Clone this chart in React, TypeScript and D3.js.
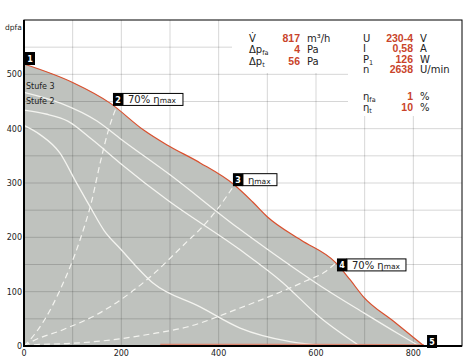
import React from 'react';
import * as d3 from 'd3';

// axis ticks
const xTicks = [0, 200, 400, 600, 800];
const yTicks = [0, 100, 200, 300, 400, 500];

// max curve (point 1 -> point 5), [V m3/h, dpfa Pa]
const maxCurve: [number, number][] = [
  [0, 519], [100, 485], [177, 447], [245, 398], [294, 370], [362, 337], [430, 298],
  [470, 265], [501, 237], [569, 195], [641, 153], [670, 122], [697, 91],
  [760, 45], [822, 0],
];
// lower limit, drawn along the bottom
const minCurve: [number, number][] = [[280, 2], [550, 2], [822, 1]];

// speed steps (white)
const stufe3: [number, number][] = [
  [0, 467], [75, 447], [150, 414], [200, 380], [300, 315], [440, 217], [500, 178],
  [610, 110], [700, 60], [770, 22], [812, 0],
];
const stufe2: [number, number][] = [
  [0, 434], [45, 427], [90, 414], [140, 380], [197, 337], [294, 269], [444, 177],
  [530, 118], [608, 53], [690, 0],
];
const stufe1: [number, number][] = [
  [0, 406], [33, 389], [74, 355], [105, 305], [136, 256], [165, 212], [197, 180],
  [265, 116], [362, 72], [444, 33], [547, 8], [629, 0],
];

// system curves (white dashed)
const eff70Left: [number, number][] = [
  [0, 0], [12, 11], [40, 45], [74, 103], [115, 195], [140, 270], [156, 335], [175, 402], [190, 440],
];
const effMax: [number, number][] = [
  [0, 0], [18, 9], [80, 30], [156, 61], [259, 127], [335, 192], [362, 215], [400, 255], [432, 296],
];
const eff70Right: [number, number][] = [
  [0, 0], [18, 2], [100, 5], [177, 11], [260, 22], [335, 35], [444, 70], [526, 99],
  [580, 120], [618, 136], [640, 152],
];

// numbered operating points
const markerNums = ['1', '2', '3', '4', '5'];
const markerPts: [number, number][] = [[0, 519], [190, 440], [432, 296], [640, 152], [822, 0]];
const markerTags = ['', '70% ', '', '70% ', ''];
const markerHasBox = [false, true, true, true, false];

// info text
const flowRows = [
  { label: 'V̇', sub: '', value: '817', unit: 'm³/h' },
  { label: 'Δp', sub: 'fa', value: '4', unit: 'Pa' },
  { label: 'Δp', sub: 't', value: '56', unit: 'Pa' },
];
const elecRows = [
  { label: 'U', sub: '', value: '230-4', unit: 'V' },
  { label: 'I', sub: '', value: '0,58', unit: 'A' },
  { label: 'P', sub: '1', value: '126', unit: 'W' },
  { label: 'n', sub: '', value: '2638', unit: 'U/min' },
];
const effRows = [
  { label: 'η', sub: 'fa', value: '1', unit: '%' },
  { label: 'η', sub: 't', value: '10', unit: '%' },
];

const W = 476, H = 364;
const font = 'DejaVu Sans, Verdana, sans-serif';
const red = '#d9502e';
const valRed = '#c9442a';

// marker layout: square offset from point, box width
const markerOffsets: [number, number][] = [[1, -12], [-3.5, -14], [-1.3, -12], [1.5, -5], [3, -11]];
const boxWidths = [0, 60, 34, 59, 0];

const x = d3.scaleLinear().domain([0, 900]).range([24, 462]);
const y = d3.scaleLinear().domain([0, 600]).range([346, 20]);

const line = d3.line<[number, number]>()
  .x(d => x(d[0]))
  .y(d => y(d[1]))
  .curve(d3.curveMonotoneX);

const area = d3.area<[number, number]>()
  .x(d => x(d[0]))
  .y0(y(0))
  .y1(d => y(d[1]))
  .curve(d3.curveMonotoneX);

const InfoBlock = ({ rows, lx, vx, ux, y0, dy }: any) => (
  <g fontFamily={font} fontSize={10} fill="#222">
    {rows.map((r: any, i: number) => {
      const by = y0 + i * dy;
      return (
        <g key={i}>
          <text x={lx} y={by}>
            {r.label}
            {r.sub && <tspan fontSize={6.5} dy={2}>{r.sub}</tspan>}
          </text>
          <text x={vx} y={by} textAnchor="end" fill={valRed} fontWeight="bold"
            fontFamily="Liberation Sans, Arial, sans-serif" fontSize={10.5}>{r.value}</text>
          <text x={ux} y={by}>{r.unit}</text>
        </g>
      );
    })}
  </g>
);

export default function App() {
  const xGrid = d3.range(100, 900, 100);
  const yGrid = d3.range(50, 600, 50);

  return (
    <div style={{ position: 'fixed', left: 0, top: 0, width: W, height: H, background: '#fff' }}>
      <svg width={W} height={H} style={{ display: 'block' }}>
        <rect width={W} height={H} fill="#fff" />

        {/* operating range */}
        <path d={area(maxCurve) || ''} fill="#bfc2be" />

        {/* grid */}
        <g stroke="#000" strokeOpacity={0.16} strokeWidth={1}>
          {xGrid.map(v => <line key={'x' + v} x1={x(v)} x2={x(v)} y1={y(600)} y2={y(0)} />)}
          {yGrid.map(v => <line key={'y' + v} x1={x(0)} x2={x(900)} y1={y(v)} y2={y(v)} />)}
        </g>

        {/* white panels behind info text */}
        <rect x={232} y={y(600)} width={230} height={53} fill="#fff" />
        <rect x={348} y={y(600)} width={114} height={96} fill="#fff" />

        {/* speed steps */}
        <g fill="none" stroke="#f4f4f0" strokeWidth={1.3}>
          <path d={line(stufe3) || ''} />
          <path d={line(stufe2) || ''} />
          <path d={line(stufe1) || ''} />
        </g>
        <g fill="none" stroke="#f4f4f0" strokeWidth={1.2} strokeDasharray="6,4">
          <path d={line(eff70Left) || ''} />
          <path d={line(effMax) || ''} />
          <path d={line(eff70Right) || ''} />
        </g>

        {/* limits */}
        <path d={line(minCurve) || ''} fill="none" stroke="#e07a60" strokeOpacity={0.85} strokeWidth={2.5} />
        <path d={line(maxCurve) || ''} fill="none" stroke={red} strokeWidth={1.2} />

        {/* frame */}
        <rect x={x(0)} y={y(600)} width={x(900) - x(0)} height={y(0) - y(600)} fill="none" stroke="#000" strokeWidth={1} />
        <line x1={x(0)} x2={x(0)} y1={y(600)} y2={y(0) + 1} stroke="#000" strokeWidth={2} />
        <line x1={x(0)} x2={x(900)} y1={y(0)} y2={y(0)} stroke="#000" strokeWidth={2} />

        {/* ticks */}
        <g fontFamily={font} fontSize={8} fill="#222">
          {yTicks.map(v => (
            <text key={'yt' + v} x={x(0) - 2} y={y(v) + 3} textAnchor="end">{v}</text>
          ))}
          {xTicks.map(v => (
            <text key={'xt' + v} x={x(v)} y={y(0) + 10} textAnchor="middle">{v}</text>
          ))}
          <text x={5} y={30} fontSize={7.5}>dpfa</text>
          <text x={26} y={89}>Stufe 3</text>
          <text x={26} y={104}>Stufe 2</text>
        </g>

        {/* numbered points */}
        {markerPts.map((pt, i) => {
          const sx = x(pt[0]) + markerOffsets[i][0];
          const sy = y(pt[1]) + markerOffsets[i][1];
          return (
            <g key={'m' + i} fontFamily={font}>
              {markerHasBox[i] && (
                <g>
                  <rect x={sx + 10} y={sy + 0.5} width={boxWidths[i]} height={12} fill="#fff" stroke="#000" strokeWidth={1} />
                  <text x={sx + 15} y={sy + 10.5} fontSize={10} fill="#222">
                    {markerTags[i]}η<tspan fontSize={7.5}>max</tspan>
                  </text>
                </g>
              )}
              <rect x={sx} y={sy} width={10} height={13} fill="#000" />
              <text x={sx + 5} y={sy + 10} textAnchor="middle" fontSize={8} fontWeight="bold" fill="#fff">{markerNums[i]}</text>
            </g>
          );
        })}

        {/* info */}
        <InfoBlock rows={flowRows} lx={249} vx={300} ux={307} y0={41.5} dy={11.5} />
        <InfoBlock rows={elecRows} lx={363} vx={413} ux={420} y0={41.5} dy={10.5} />
        <InfoBlock rows={effRows} lx={363} vx={413} ux={420} y0={99.5} dy={11} />
      </svg>
    </div>
  );
}
